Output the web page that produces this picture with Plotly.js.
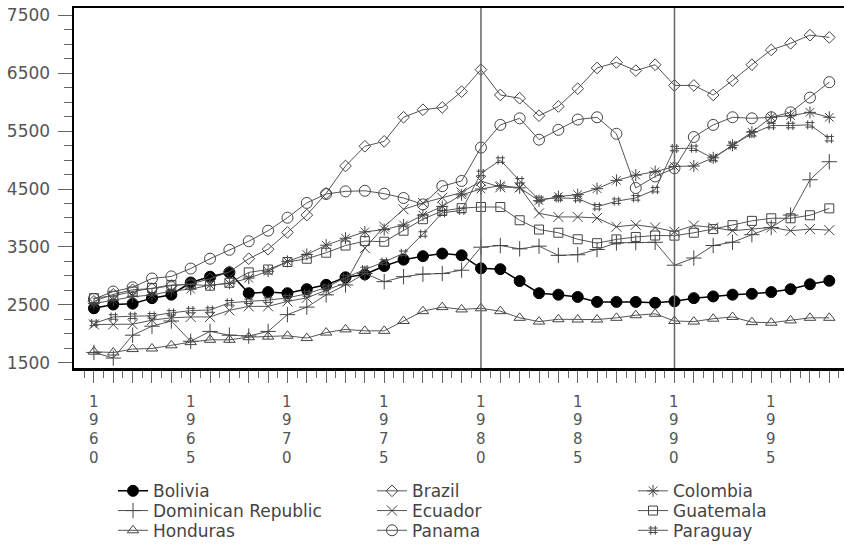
<!DOCTYPE html>
<html>
<head>
<meta charset="utf-8">
<script src="https://cdn.plot.ly/plotly-3.0.1.min.js"></script>
<style>html,body{margin:0;padding:0;background:#fff;}#chart{width:844px;height:549px;}</style>
</head>
<body>
<div id="chart"></div>
<script>
var years = [1960,1961,1962,1963,1964,1965,1966,1967,1968,1969,1970,1971,1972,1973,1974,1975,1976,1977,1978,1979,1980,1981,1982,1983,1984,1985,1986,1987,1988,1989,1990,1991,1992,1993,1994,1995,1996,1997,1998];
var labelYears = [1960,1965,1970,1975,1980,1985,1990,1995];
var refYears = [1980,1990];

var bolivia = [2440,2505,2520,2615,2675,2885,2985,3060,2700,2720,2700,2770,2845,2975,3025,3170,3280,3340,3385,3355,3130,3115,2910,2700,2675,2635,2550,2550,2550,2535,2560,2615,2645,2675,2690,2720,2770,2855,2915];
var brazil = [2560,2680,2760,2780,2830,2860,2950,3070,3296,3460,3750,4050,4425,4898,5239,5324,5740,5870,5910,6183,6563,6125,6069,5767,5927,6234,6592,6688,6546,6648,6290,6290,6125,6375,6648,6904,7018,7159,7120];
var colombia = [2520,2580,2640,2670,2740,2770,2840,2870,2960,3080,3250,3370,3530,3650,3760,3800,3880,4050,4200,4400,4500,4560,4520,4300,4370,4404,4506,4650,4740,4800,4890,4898,5040,5256,5484,5740,5768,5825,5740];
var dominican = [1677,1580,1975,2130,2220,1870,2040,1975,1960,2040,2330,2460,2672,2843,3041,2900,2985,3030,3040,3098,3495,3524,3467,3513,3354,3365,3456,3570,3575,3580,3184,3308,3524,3581,3711,3836,4050,4660,4972];
var ecuador = [2160,2160,2165,2235,2275,2290,2290,2405,2473,2473,2558,2620,2750,2882,3480,3850,4150,4260,4350,4440,4640,4530,4530,4080,4018,4018,4000,3848,3882,3836,3763,3870,3836,3780,3808,3836,3780,3808,3790];
var guatemala = [2615,2655,2729,2790,2843,2850,2830,2880,3060,3110,3240,3296,3400,3524,3600,3590,3780,3979,4121,4170,4190,4189,3961,3800,3745,3632,3565,3630,3672,3697,3695,3745,3808,3876,3950,3995,3995,4047,4166];
var honduras = [1690,1675,1735,1745,1800,1855,1895,1895,1940,1950,1965,1925,2020,2075,2050,2050,2220,2390,2460,2420,2440,2390,2275,2210,2250,2245,2245,2275,2320,2345,2220,2210,2260,2290,2200,2190,2230,2275,2275];
var panama = [2600,2729,2802,2955,2990,3126,3296,3450,3598,3780,4005,4260,4415,4460,4470,4420,4345,4235,4550,4640,5217,5608,5722,5353,5523,5700,5740,5455,4518,4717,4859,5399,5608,5740,5722,5740,5825,6080,6346];
var paraguay = [2178,2290,2303,2310,2360,2400,2410,2535,2560,2580,2620,2690,2800,2970,3110,3240,3390,3723,4090,4130,4770,5000,4643,4320,4347,4336,4194,4290,4347,4489,5200,5205,5029,5256,5455,5597,5597,5610,5370];

var FONT = 'DejaVu Sans, sans-serif';
var LINEC = '#555';
var MARKC = '#444';

// plot box in pixels (used to place legends and x labels below the axis)
var PL = 74, PW = 770, PT = 8, PH = 365;
function paperX(px) { return (px - PL) / PW; }
function paperY(py) { return (PT + PH - py) / PH; }

var specs = [
  {name: 'Bolivia', y: bolivia, sym: 'circle', size: 11, filled: true, col: 0, row: 0},
  {name: 'Brazil', y: brazil, sym: 'diamond-open', size: 9, col: 1, row: 0},
  {name: 'Colombia', y: colombia, sym: 'asterisk-open', size: 10, col: 2, row: 0},
  {name: 'Dominican Republic', y: dominican, sym: 'cross-thin-open', size: 11, col: 0, row: 1},
  {name: 'Ecuador', y: ecuador, sym: 'x-thin-open', size: 10, col: 1, row: 1},
  {name: 'Guatemala', y: guatemala, sym: 'square-open', size: 9, col: 2, row: 1},
  {name: 'Honduras', y: honduras, sym: 'triangle-up-open', size: 10, col: 0, row: 2},
  {name: 'Panama', y: panama, sym: 'circle-open', size: 11, col: 1, row: 2},
  {name: 'Paraguay', y: paraguay, sym: 'hash-open', size: 9, col: 2, row: 2}
];
var legendColX = [113, 372, 633];
var legendRowY = [498, 518, 538];

var layout = {
  width: 844, height: 549,
  margin: {l: PL, r: 0, t: PT, b: 549 - PT - PH, pad: 0},
  paper_bgcolor: '#fff', plot_bgcolor: '#fff',
  showlegend: true,
  xaxis: {
    range: [1958.97, 1998.76],
    tickmode: 'array', tickvals: years, showticklabels: false,
    ticks: 'outside', ticklen: 12, tickwidth: 1, tickcolor: '#666',
    minor: {tickmode: 'linear', tick0: 1959.5, dtick: 1, ticks: 'outside', ticklen: 7, tickwidth: 1, tickcolor: '#666'},
    showline: true, linewidth: 2.5, linecolor: '#000', mirror: true,
    showgrid: false, zeroline: false
  },
  yaxis: {
    range: [1408, 7628],
    tickmode: 'linear', tick0: 1500, dtick: 1000,
    ticks: 'outside', ticklen: 14, tickwidth: 1, tickcolor: '#666',
    ticklabelstandoff: 4,
    minor: {tickmode: 'linear', tick0: 1500, dtick: 250, ticks: 'outside', ticklen: 8, tickwidth: 1, tickcolor: '#666'},
    showline: true, linewidth: 2.5, linecolor: '#000', mirror: false,
    showgrid: false, zeroline: false,
    tickfont: {family: FONT, size: 17, color: '#555'}
  },
  shapes: refYears.map(function (yr) {
    return {type: 'line', xref: 'x', yref: 'paper', x0: yr, x1: yr, y0: 0, y1: 1,
            line: {color: '#666', width: 1.5}};
  }),
  annotations: []
};

var traces = specs.map(function (s, i) {
  var key = i === 0 ? 'legend' : 'legend' + (i + 1);
  layout[key] = {
    x: paperX(legendColX[s.col]), xanchor: 'left',
    y: paperY(legendRowY[s.row]), yanchor: 'middle',
    orientation: 'v', bgcolor: 'rgba(0,0,0,0)', borderwidth: 0,
    font: {family: FONT, size: 17, color: '#444'}
  };
  return {
    type: 'scatter', mode: 'lines+markers', name: s.name, x: years, y: s.y,
    legend: key,
    line: {color: s.filled ? '#000' : LINEC, width: s.filled ? 1.5 : 1},
    marker: {symbol: s.sym, size: s.size, color: s.filled ? '#000' : MARKC,
             line: {color: s.filled ? '#000' : MARKC, width: 1}}
  };
});

// x tick labels: the year written vertically, one digit per line
var digitRowY = [407, 426, 445, 464];
labelYears.forEach(function (yr) {
  String(yr).split('').forEach(function (ch, k) {
    layout.annotations.push({
      xref: 'x', yref: 'paper', x: yr, y: paperY(digitRowY[k]),
      xanchor: 'center', yanchor: 'middle', showarrow: false,
      text: ch, font: {family: FONT, size: 15, color: '#555'}
    });
  });
});

Plotly.newPlot('chart', traces, layout, {displayModeBar: false, staticPlot: true});
</script>
</body>
</html>
